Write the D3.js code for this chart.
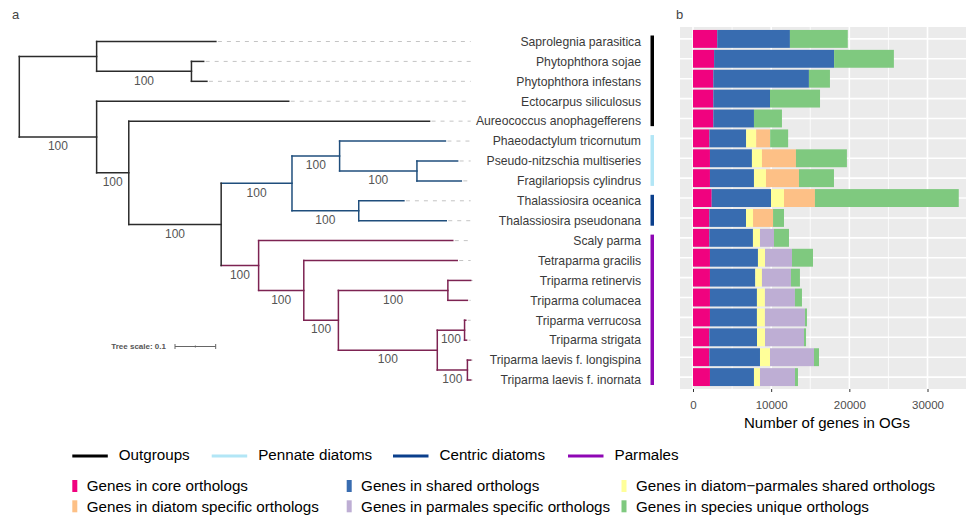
<!DOCTYPE html>
<html>
<head>
<meta charset="utf-8">
<script src="https://cdn.jsdelivr.net/npm/d3@7"></script>
<style>
body{margin:0;background:#fff}
svg{display:block;font-family:"Liberation Sans",Arial,sans-serif}
</style>
</head>
<body>
<svg id="chart"></svg>
<script>
// species, top to bottom
const species = ["Saprolegnia parasitica","Phytophthora sojae","Phytophthora infestans","Ectocarpus siliculosus",
  "Aureococcus anophagefferens","Phaeodactylum tricornutum","Pseudo-nitzschia multiseries","Fragilariopsis cylindrus",
  "Thalassiosira oceanica","Thalassiosira pseudonana","Scaly parma","Tetraparma gracilis","Triparma retinervis",
  "Triparma columacea","Triparma verrucosa","Triparma strigata","Triparma laevis f. longispina","Triparma laevis f. inornata"];

// tree as node / parent / branch length / bootstrap
const treeNodes = ["root","A","Saprolegnia parasitica","Phyt","Phytophthora sojae","Phytophthora infestans",
  "B","Ectocarpus siliculosus","C","Aureococcus anophagefferens","D","Diatoms","Pennate","Phaeodactylum tricornutum",
  "PF","Pseudo-nitzschia multiseries","Fragilariopsis cylindrus","Centric","Thalassiosira oceanica","Thalassiosira pseudonana",
  "Parmales","Scaly parma","E","Tetraparma gracilis","F","G","Triparma retinervis","Triparma columacea",
  "H","I","Triparma verrucosa","Triparma strigata","J","Triparma laevis f. longispina","Triparma laevis f. inornata"];
const treeParents = [null,"root","A","A","Phyt","Phyt","root","B","B","C","C","D","Diatoms","Pennate","Pennate","PF","PF",
  "Diatoms","Centric","Centric","D","Parmales","Parmales","E","E","F","G","G","F","H","I","I","H","J","J"];
const branchLengths = [0,0.190,0.293,0.233,0.030,0.038,0.190,0.472,0.079,0.739,0.227,0.174,0.117,0.260,0.190,0.100,0.109,
  0.164,0.111,0.215,0.092,0.477,0.111,0.377,0.085,0.269,0.056,0.048,0.243,0.067,0.003,0.005,0.074,0.008,0.008];
const bootstrap = [null,null,null,100,null,null,100,null,100,null,100,100,100,null,100,null,null,100,null,null,
  100,null,100,null,100,100,null,null,100,100,null,null,100,null,null];

// clade strips
const cladeNames = ["Outgroups","Pennate diatoms","Centric diatoms","Parmales"];
const cladeFirst = ["Saprolegnia parasitica","Phaeodactylum tricornutum","Thalassiosira oceanica","Scaly parma"];
const cladeLast = ["Aureococcus anophagefferens","Fragilariopsis cylindrus","Thalassiosira pseudonana","Triparma laevis f. inornata"];
const cladeColors = ["#000000","#b2e6f6","#0a3f8c","#8e06b4"];

// genes in OGs per species
const seriesNames = ["Genes in core orthologs","Genes in shared orthologs","Genes in diatom\u2212parmales shared orthologs",
  "Genes in diatom specific orthologs","Genes in parmales specific orthologs","Genes in species unique orthologs"];
const core = [3100,2700,2600,2600,2600,2100,2170,2170,2390,2090,2090,2170,2170,2170,2170,2090,2090,2170];
const shared = [9300,15350,12230,7250,5200,4700,5370,5630,7590,4690,5580,6140,5800,6010,6010,6100,6480,5630];
const diatomParmales = [0,0,0,0,0,1280,1280,1535,1660,900,900,900,850,1020,1020,1020,1280,770];
const diatomSpecific = [0,0,0,0,0,1790,4350,4220,3960,2560,0,0,0,0,0,0,0,0];
const parmalesSpecific = [0,0,0,0,0,0,0,0,0,0,1790,3450,3710,3840,5120,4990,5630,4480];
const unique = [7400,7650,2690,6400,3580,2300,6520,4480,18400,1400,1920,2690,1150,900,260,260,640,380];
const xTicks = [0,10000,20000,30000];
const xMinor = [5000,15000,25000];
const seriesColors = ["#f0027f","#386cb0","#ffff99","#fdc086","#beaed4","#7fc97f"];

const W = 967, H = 517;
const svg = d3.select("#chart").attr("width", W).attr("height", H);

// ---------- panel a: tree ----------
const xTree = d3.scaleLinear().domain([0, 1]).range([19.3, 426.3]);
const yTree = d3.scalePoint().domain(species).range([41.5, 380]);
const groupColor = {out: "#2b2b2b", Diatoms: "#1f4e7c", Parmales: "#7d2352"};

const table = treeNodes.map((name, i) => ({name, parent: treeParents[i], len: branchLengths[i], bs: bootstrap[i]}));
const root = d3.stratify().id(d => d.name).parentId(d => d.parent)(table);
root.eachBefore(n => {
  n.dist = n.parent ? n.parent.dist + n.data.len : 0;
  n.grp = (n.data.name === "Diatoms" || n.data.name === "Parmales") ? n.data.name : (n.parent ? n.parent.grp : "out");
});
root.eachAfter(n => {
  n.yy = n.children ? (n.children[0].yy + n.children[n.children.length - 1].yy) / 2 : yTree(n.data.name);
});
const maxDist = d3.max(root.leaves(), d => d.dist);

const gTree = svg.append("g");
// dashed leader lines
gTree.selectAll("line.dash").data(root.leaves()).join("line")
  .attr("x1", d => xTree(d.dist) + 2).attr("x2", xTree(maxDist))
  .attr("y1", d => d.yy).attr("y2", d => d.yy)
  .attr("stroke", "#c4c4c4").attr("stroke-width", 1).attr("stroke-dasharray", "4,5");
// horizontal branches
gTree.selectAll("line.h").data(root.descendants().filter(d => d.parent)).join("line")
  .attr("x1", d => xTree(d.parent.dist)).attr("x2", d => xTree(d.dist))
  .attr("y1", d => d.yy).attr("y2", d => d.yy)
  .attr("stroke", d => groupColor[d.grp]).attr("stroke-width", 1.5).attr("stroke-linecap", "square");
// vertical connectors
gTree.selectAll("line.v").data(root.descendants().filter(d => d.children)).join("line")
  .attr("x1", d => xTree(d.dist)).attr("x2", d => xTree(d.dist))
  .attr("y1", d => d.children[0].yy).attr("y2", d => d.children[d.children.length - 1].yy)
  .attr("stroke", d => groupColor[d.grp]).attr("stroke-width", 1.5).attr("stroke-linecap", "square");
// bootstrap values
gTree.selectAll("text.bs").data(root.descendants().filter(d => d.data.bs)).join("text")
  .attr("x", d => (xTree(d.parent.dist) + xTree(d.dist)) / 2)
  .attr("y", d => d.yy + 9).attr("dy", "0.35em")
  .attr("text-anchor", "middle").attr("font-size", 12).attr("fill", "#555")
  .text(d => d.data.bs);
// species labels
gTree.selectAll("text.sp").data(species).join("text")
  .attr("x", 641).attr("y", d => yTree(d)).attr("dy", "0.35em")
  .attr("text-anchor", "end").attr("font-size", 12.2).attr("fill", "#3a3a3a")
  .text(d => d);
// clade strips
gTree.selectAll("rect.clade").data(cladeNames).join("rect")
  .attr("x", 650.5).attr("width", 3.5)
  .attr("y", (d, i) => yTree(cladeFirst[i]) - 6)
  .attr("height", (d, i) => yTree(cladeLast[i]) - yTree(cladeFirst[i]) + 11)
  .attr("fill", (d, i) => cladeColors[i]);
// tree scale
const sb = gTree.append("g").attr("transform", "translate(0,346.5)");
sb.append("text").attr("x", 166).attr("dy", "0.35em").attr("text-anchor", "end")
  .attr("font-size", 8).attr("font-weight", "bold").attr("fill", "#555").text("Tree scale: 0.1");
const s0 = 175, s1 = 175 + (xTree(0.1) - xTree(0));
sb.append("line").attr("x1", s0).attr("x2", s1).attr("stroke", "#666").attr("stroke-width", 1);
[s0, (s0 + s1) / 2, s1].forEach((x, i) => sb.append("line").attr("x1", x).attr("x2", x)
  .attr("y1", i === 1 ? -1 : -2.5).attr("y2", i === 1 ? 1 : 2.5).attr("stroke", "#666"));

svg.append("text").attr("x", 12).attr("y", 19).attr("font-size", 13).attr("fill", "#444").text("a");
svg.append("text").attr("x", 676).attr("y", 19).attr("font-size", 13).attr("fill", "#444").text("b");

// ---------- panel b: stacked bars ----------
const px0 = 680, px1 = 966, py0 = 27, py1 = 389;
const xBar = d3.scaleLinear().domain([0, 30000]).range([693, 927.5]);
const yBar = d3.scalePoint().domain(species).range([38.9, 377.1]);
const barH = 17.9;

const gBar = svg.append("g");
gBar.append("rect").attr("x", px0).attr("y", py0).attr("width", px1 - px0).attr("height", py1 - py0).attr("fill", "#ebebeb");
gBar.selectAll("line.minor").data(xMinor).join("line")
  .attr("x1", d => xBar(d)).attr("x2", d => xBar(d)).attr("y1", py0).attr("y2", py1)
  .attr("stroke", "#fff").attr("stroke-width", 0.8);
gBar.selectAll("line.major").data(xTicks).join("line")
  .attr("x1", d => xBar(d)).attr("x2", d => xBar(d)).attr("y1", py0).attr("y2", py1)
  .attr("stroke", "#fff").attr("stroke-width", 1.6);
gBar.selectAll("line.hg").data(species).join("line")
  .attr("x1", px0).attr("x2", px1).attr("y1", d => yBar(d)).attr("y2", d => yBar(d))
  .attr("stroke", "#fff").attr("stroke-width", 1.6);

const rows = species.map((s, i) => ({species: s, s0: core[i], s1: shared[i], s2: diatomParmales[i],
  s3: diatomSpecific[i], s4: parmalesSpecific[i], s5: unique[i]}));
const keys = ["s0","s1","s2","s3","s4","s5"];
const stacked = d3.stack().keys(keys)(rows);

gBar.selectAll("g.layer").data(stacked).join("g")
  .attr("fill", (d, i) => seriesColors[i])
  .selectAll("rect").data(d => d.filter(p => p[1] > p[0])).join("rect")
  .attr("x", d => xBar(d[0])).attr("width", d => xBar(d[1]) - xBar(d[0]))
  .attr("y", d => yBar(d.data.species) - barH / 2).attr("height", barH);

const xAxis = d3.axisBottom(xBar).tickValues(xTicks).tickFormat(d3.format("d")).tickSize(3).tickPadding(9);
const ax = gBar.append("g").attr("transform", `translate(0,${py1})`).call(xAxis);
ax.select(".domain").remove();
ax.selectAll(".tick line").attr("stroke", "#333");
ax.selectAll(".tick text").attr("font-size", 11.5).attr("fill", "#4d4d4d").attr("font-family", null);

gBar.append("text").attr("x", 827).attr("y", 428).attr("text-anchor", "middle")
  .attr("font-size", 15).attr("fill", "#000").text("Number of genes in OGs");

// ---------- legends ----------
const legA = svg.append("g").attr("transform", "translate(0,456)");
const legAx = [72.3, 211.7, 393, 568];
cladeNames.forEach((name, i) => {
  legA.append("line").attr("x1", legAx[i]).attr("x2", legAx[i] + 35.5)
    .attr("stroke", cladeColors[i]).attr("stroke-width", 3);
  legA.append("text").attr("x", legAx[i] + 46.5).attr("y", -1.5).attr("dy", "0.35em")
    .attr("font-size", 15.2).attr("fill", "#000").text(name);
});

const legBx = [72.3, 346.7, 621.5], legBy = [486, 506.3];
seriesNames.forEach((name, i) => {
  const g = svg.append("g").attr("transform", `translate(${legBx[i % 3]},${legBy[Math.floor(i / 3)]})`);
  g.append("rect").attr("x", 0).attr("y", -6).attr("width", 5).attr("height", 12).attr("fill", seriesColors[i]);
  g.append("text").attr("x", 14.4).attr("dy", "0.35em").attr("font-size", 15.2).attr("fill", "#000").text(name);
});
</script>
</body>
</html>
